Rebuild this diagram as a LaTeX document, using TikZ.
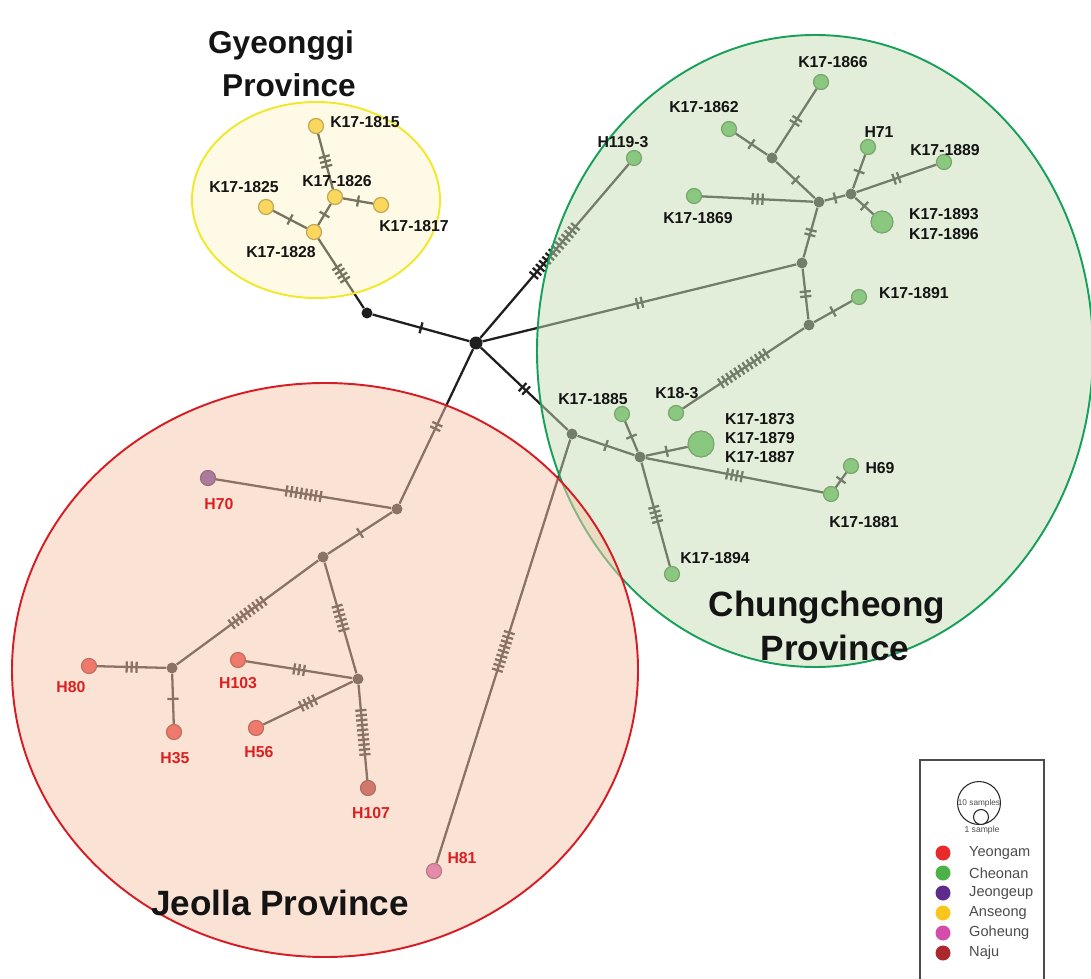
\documentclass[tikz,border=0pt]{standalone}
\usepackage{fontspec}
\setmainfont{Liberation Sans}
\usepackage{tikz}
\usetikzlibrary{positioning}
\definecolor{colYe}{RGB}{232,42,42}
\definecolor{colCh}{RGB}{76,178,72}
\definecolor{colJe}{RGB}{96,44,140}
\definecolor{colAn}{RGB}{250,198,30}
\definecolor{colGo}{RGB}{214,76,170}
\definecolor{colNa}{RGB}{172,40,44}
\definecolor{colLab}{RGB}{218,32,32}
\definecolor{colYl}{RGB}{240,232,40}
\definecolor{fillYl}{RGB}{255,242,192}
\definecolor{colGr}{RGB}{24,160,90}
\definecolor{fillGr}{RGB}{200,222,182}
\definecolor{colRd}{RGB}{214,28,36}
\definecolor{fillRd}{RGB}{246,200,172}
% n mutation ticks across an edge
\newcommand{\mut}[1]{%
  \foreach \k in {1,...,#1}{\ifnum\k>1 \hspace{1.5pt}\fi\rule[-3.2pt]{1.3pt}{6.4pt}}}

\begin{document}
\begin{tikzpicture}[x=0.02cm,y=-0.02cm,
  smp/.style={circle, draw=#1!60!black, fill=#1, line width=0.7pt,
    minimum size=0.3cm, inner sep=0pt},
  jn/.style={circle, fill=black!88, minimum size=0.22cm, inner sep=0pt},
  lnk/.style={line width=1.3pt, black!88},
  tk/.style={sloped, inner sep=0pt, text=black!88},
  lab/.style={font=\bfseries\fontsize{9}{11}\selectfont, text=black!92},
  rlab/.style={lab, text=colLab},
  ttl/.style={font=\bfseries\fontsize{20}{24}\selectfont, text=black!92},
  leg/.style={font=\fontsize{8.3}{10}\selectfont, text=black!70, anchor=west},
  legdot/.style={circle, fill=#1, minimum size=0.3cm, inner sep=0pt}
]
\useasboundingbox (0,0) rectangle (1091,979);

% Gyeonggi
\node[jn] (j1) at (367,313) {};
\node[smp=colAn] (s1828) at (314,232) {};
\node[smp=colAn] (s1826) at (335,197) {};
\node[smp=colAn] (s1825) at (266,207) {};
\node[smp=colAn] (s1815) at (316,126) {};
\node[smp=colAn] (s1817) at (381,205) {};

% Hub
\node[jn, minimum size=0.26cm] (hub) at (476,343) {};

% Chungcheong
\node[smp=colCh] (s1193) at (634,158) {};
\node[smp=colCh] (s1866) at (821,82) {};
\node[smp=colCh] (s1862) at (729,129) {};
\node[jn] (g1) at (772,158) {};
\node[smp=colCh] (sH71) at (868,147) {};
\node[smp=colCh] (s1869) at (694,196) {};
\node[jn] (g2) at (819,202) {};
\node[jn] (g3) at (851,194) {};
\node[smp=colCh] (s1889) at (944,162) {};
\node[smp=colCh, minimum size=0.44cm] (s1893) at (882,222) {};
\node[jn] (g4) at (802,263) {};
\node[smp=colCh] (s1891) at (859,297) {};
\node[jn] (g5) at (809,325) {};
\node[smp=colCh] (s183) at (676,413) {};
\node[jn] (g6) at (572,434) {};
\node[smp=colCh] (s1885) at (622,414) {};
\node[jn] (g7) at (640,457) {};
\node[smp=colCh, minimum size=0.52cm] (s1873) at (701,444) {};
\node[smp=colCh] (s1881) at (831,494) {};
\node[smp=colCh] (sH69) at (851,466) {};
\node[smp=colCh] (s1894) at (672,574) {};

% Jeolla
\node[jn] (r1) at (397,509) {};
\node[jn] (r2) at (323,557) {};
\node[jn] (r3) at (172,668) {};
\node[jn] (r4) at (358,679) {};
\node[smp=colJe] (sH70) at (208,478) {};
\node[smp=colYe] (sH80) at (89,666) {};
\node[smp=colYe] (sH35) at (174,732) {};
\node[smp=colYe] (sH103) at (238,660) {};
\node[smp=colYe] (sH56) at (256,728) {};
\node[smp=colNa] (sH107) at (368,788) {};
\node[smp=colGo] (sH81) at (434,871) {};

% Edges
\draw[lnk] (hub) -- node[tk]{\mut{1}} (j1);
\draw[lnk] (j1) -- node[tk]{\mut{4}} (s1828);
\draw[lnk] (s1828) -- node[tk]{\mut{1}} (s1826);
\draw[lnk] (s1828) -- node[tk]{\mut{1}} (s1825);
\draw[lnk] (s1826) -- node[tk]{\mut{3}} (s1815);
\draw[lnk] (s1826) -- node[tk]{\mut{1}} (s1817);
\draw[lnk] (hub) -- node[tk]{\mut{14}} (s1193);
\draw[lnk] (hub) -- node[tk]{\mut{2}} (g4);
\draw[lnk] (hub) -- node[tk]{\mut{2}} (g6);
\draw[lnk] (hub) -- node[tk]{\mut{2}} (r1);
\draw[lnk] (g4) -- node[tk]{\mut{2}} (g2);
\draw[lnk] (g2) -- node[tk]{\mut{1}} (g1);
\draw[lnk] (g1) -- node[tk]{\mut{1}} (s1862);
\draw[lnk] (g1) -- node[tk]{\mut{2}} (s1866);
\draw[lnk] (g2) -- node[tk]{\mut{3}} (s1869);
\draw[lnk] (g2) -- node[tk]{\mut{1}} (g3);
\draw[lnk] (g3) -- node[tk]{\mut{1}} (sH71);
\draw[lnk] (g3) -- node[tk]{\mut{2}} (s1889);
\draw[lnk] (g3) -- node[tk]{\mut{1}} (s1893);
\draw[lnk] (g4) -- node[tk]{\mut{2}} (g5);
\draw[lnk] (g5) -- node[tk]{\mut{1}} (s1891);
\draw[lnk] (g5) -- node[tk]{\mut{12}} (s183);
\draw[lnk] (g6) -- node[tk]{\mut{1}} (g7);
\draw[lnk] (g6) -- node[tk]{\mut{9}} (sH81);
\draw[lnk] (g7) -- node[tk]{\mut{1}} (s1885);
\draw[lnk] (g7) -- node[tk]{\mut{1}} (s1873);
\draw[lnk] (g7) -- node[tk]{\mut{4}} (s1881);
\draw[lnk] (s1881) -- node[tk]{\mut{1}} (sH69);
\draw[lnk] (g7) -- node[tk]{\mut{4}} (s1894);
\draw[lnk] (r1) -- node[tk]{\mut{8}} (sH70);
\draw[lnk] (r1) -- node[tk]{\mut{1}} (r2);
\draw[lnk] (r2) -- node[tk]{\mut{9}} (r3);
\draw[lnk] (r2) -- node[tk]{\mut{6}} (r4);
\draw[lnk] (r3) -- node[tk]{\mut{3}} (sH80);
\draw[lnk] (r3) -- node[tk]{\mut{1}} (sH35);
\draw[lnk] (r4) -- node[tk]{\mut{3}} (sH103);
\draw[lnk] (r4) -- node[tk]{\mut{4}} (sH56);
\draw[lnk] (r4) -- node[tk]{\mut{10}} (sH107);

% Province shading
\draw[draw=colYl, line width=1.1pt, fill=fillYl, fill opacity=0.4]
  (316,200) ellipse [x radius=124, y radius=98];
\draw[draw=colGr, line width=1.1pt, fill=fillGr, fill opacity=0.5]
  (815,351) ellipse [x radius=278, y radius=316];
\draw[draw=colRd, line width=1.1pt, fill=fillRd, fill opacity=0.5]
  (325,670) ellipse [x radius=313, y radius=287];

% Labels
\node[lab] (l1815) at (365,122) {K17-1815};
\node[lab] (l1826) at (337,181) {K17-1826};
\node[lab] (l1817) at (414,226) {K17-1817};
\node[lab] (l1825) at (244,187) {K17-1825};
\node[lab] (l1828) at (281,252) {K17-1828};
\node[lab] (l1193) at (623,142) {H119-3};
\node[lab] (l1866) at (833,62) {K17-1866};
\node[lab] (l1862) at (704,107) {K17-1862};
\node[lab] (lH71) at (879,132) {H71};
\node[lab] (l1869) at (698,218) {K17-1869};
\node[lab] (l1889) at (945,150) {K17-1889};
\node[lab, align=left, anchor=west] (l1893) at (903,224) {K17-1893\\K17-1896};
\node[lab, anchor=west] (l1891) at (873,293) {K17-1891};
\node[lab] (l183) at (677,393) {K18-3};
\node[lab] (l1885) at (593,399) {K17-1885};
\node[lab, align=left, anchor=west] (l1873) at (719,438) {K17-1873\\K17-1879\\K17-1887};
\node[lab] (l1881) at (864,522) {K17-1881};
\node[lab] (lH69) at (880,468) {H69};
\node[lab] (l1894) at (715,558) {K17-1894};
\node[rlab] (lH70) at (219,504) {H70};
\node[rlab] (lH80) at (71,687) {H80};
\node[rlab] (lH35) at (175,758) {H35};
\node[rlab] (lH103) at (238,683) {H103};
\node[rlab] (lH56) at (259,752) {H56};
\node[rlab] (lH107) at (371,813) {H107};
\node[rlab] (lH81) at (462,858) {H81};

% Province names
\node[ttl, font=\bfseries\fontsize{18}{22}\selectfont] (tG1) at (281,45) {Gyeonggi};
\node[ttl, font=\bfseries\fontsize{18}{22}\selectfont] (tG2) at (289,85) {Province};
\node[ttl] (tC1) at (827,607) {Chungcheong};
\node[ttl] (tC2) at (835,648) {Province};
\node[ttl] (tJ) at (280,903) {Jeolla Province};

% Legend
\draw[black!70, line width=0.6pt] (920,985) -- (920,760) -- (1044,760) -- (1044,985);
\node[circle, draw=black!85, line width=0.6pt, minimum size=0.84cm, inner sep=0pt,
  font=\fontsize{4.7}{5}\selectfont, text=black!70] (big) at (979,803) {10 samples};
\node[circle, draw=black!85, fill=white, line width=0.6pt, minimum size=0.3cm,
  inner sep=0pt] (small) at (981,817) {};
\node[font=\fontsize{4.9}{5}\selectfont, text=black!70] (one) at (982,830) {1 sample};
\node[legdot=colYe] (d1) at (943,853) {};
\node[legdot=colCh] (d2) at (943,873) {};
\node[legdot=colJe] (d3) at (943,893) {};
\node[legdot=colAn] (d4) at (943,913) {};
\node[legdot=colGo] (d5) at (943,933) {};
\node[legdot=colNa] (d6) at (943,953) {};
\node[leg] at (963,853) {Yeongam};
\node[leg] at (963,873) {Cheonan};
\node[leg] at (963,893) {Jeongeup};
\node[leg] at (963,913) {Anseong};
\node[leg] at (963,933) {Goheung};
\node[leg] at (963,953) {Naju};
\end{tikzpicture}
\end{document}
